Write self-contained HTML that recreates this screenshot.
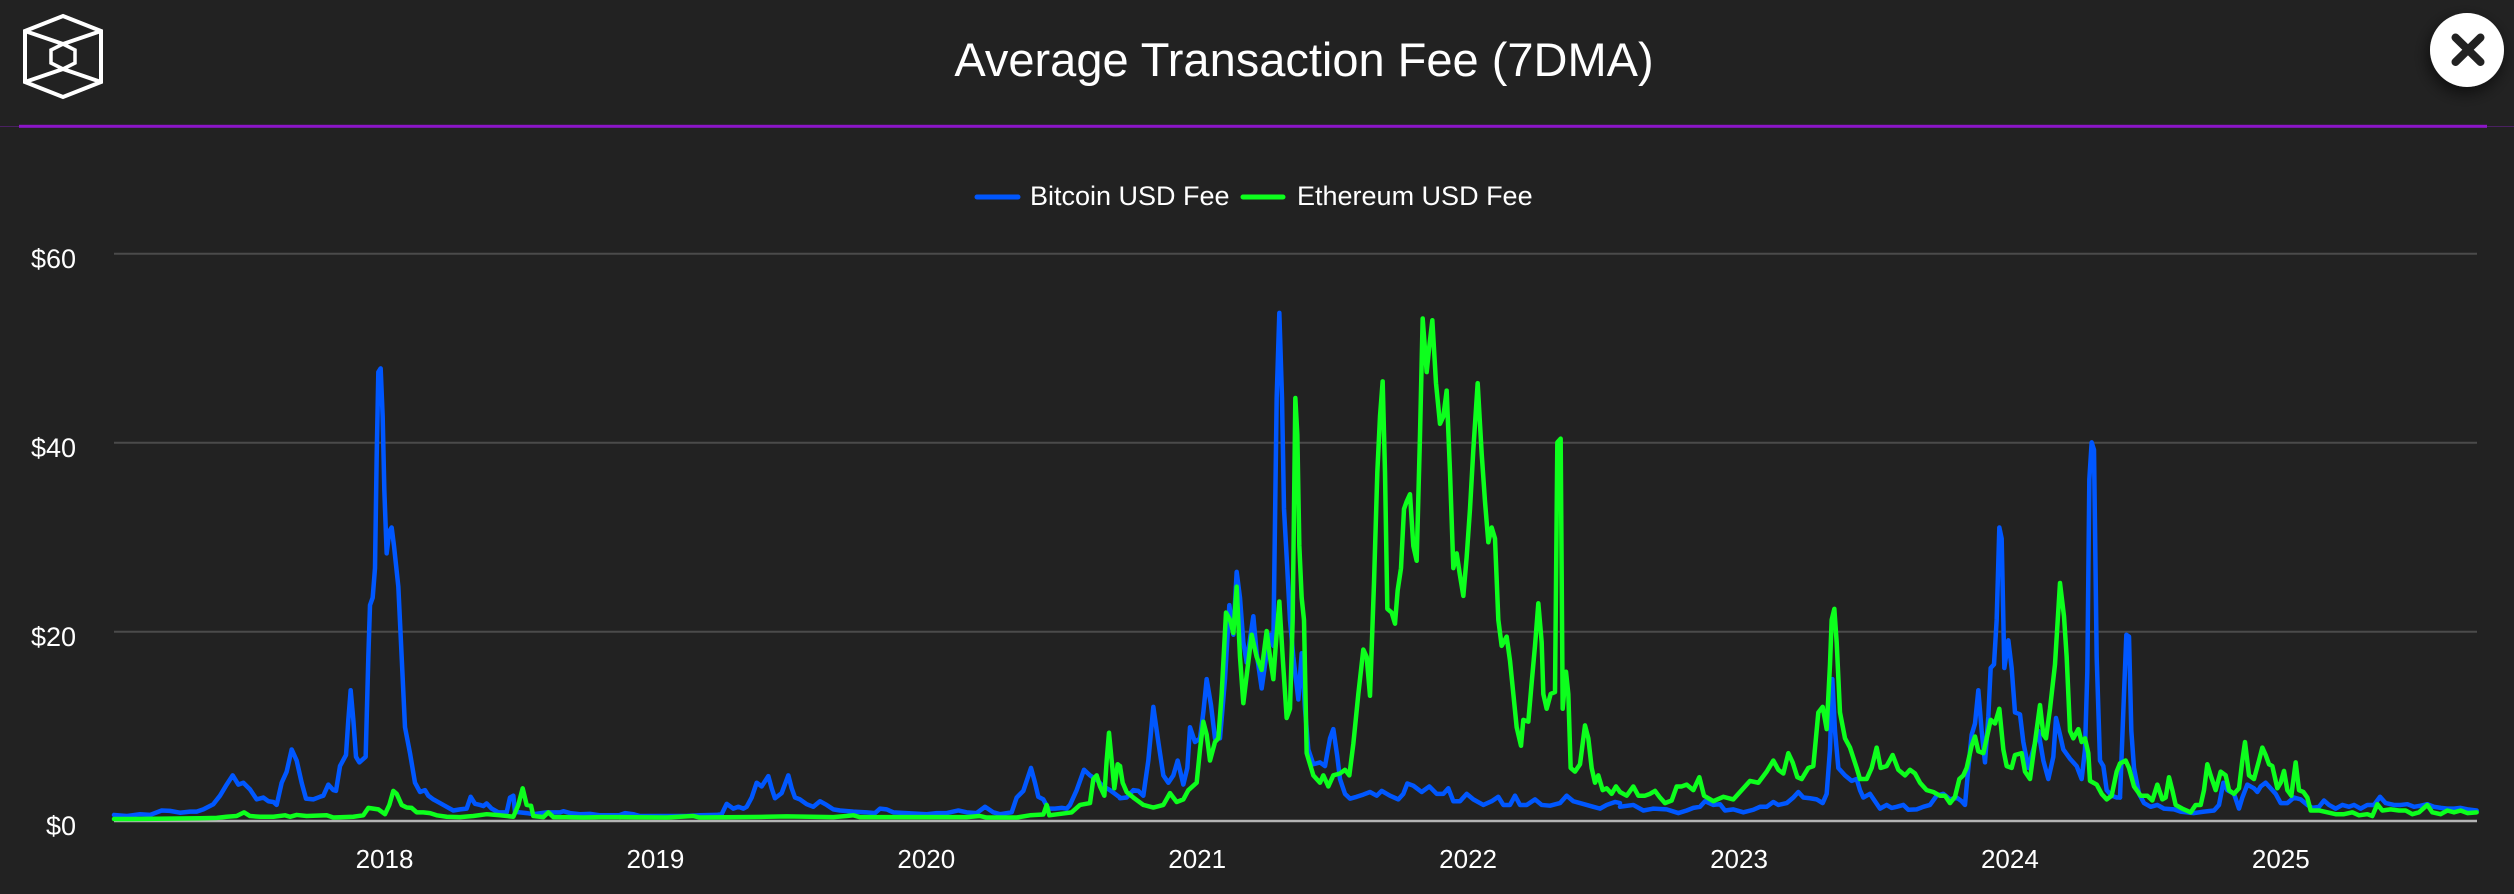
<!DOCTYPE html>
<html>
<head>
<meta charset="utf-8">
<style>
html,body{margin:0;padding:0;background:#222222;}
body{width:2514px;height:894px;overflow:hidden;}
svg{display:block;}
text{font-family:"Liberation Sans",Arial,sans-serif;fill:#ffffff;}
</style>
</head>
<body>
<svg width="2514" height="894" viewBox="0 0 2514 894" xmlns="http://www.w3.org/2000/svg">
<defs>
<filter id="sh" x="-50%" y="-50%" width="200%" height="200%">
<feGaussianBlur in="SourceAlpha" stdDeviation="8"/>
<feOffset dx="-2" dy="6" result="o"/>
<feComponentTransfer><feFuncA type="linear" slope="0.6"/></feComponentTransfer>
<feMerge><feMergeNode/><feMergeNode in="SourceGraphic"/></feMerge>
</filter>
</defs>
<rect x="0" y="0" width="2514" height="894" fill="#222222"/>

<!-- logo -->
<g fill="none" stroke="#ffffff" stroke-width="4" stroke-linejoin="miter">
<polygon points="63,16 101,31 101,82 63,97 25,82 25,31"/>
<polygon points="63,44 75,50 75,63 63,69 51,63 51,50" stroke-width="3.5"/>
<line x1="25" y1="31" x2="63" y2="44"/>
<line x1="101" y1="31" x2="63" y2="44"/>
<line x1="25" y1="82" x2="63" y2="69"/>
<line x1="101" y1="82" x2="63" y2="69"/>
</g>

<!-- title -->
<text x="1304" y="76" font-size="47" text-anchor="middle">Average Transaction Fee (7DMA)</text>

<!-- close button -->
<g filter="url(#sh)">
<circle cx="2467" cy="50" r="37" fill="#ffffff"/>
</g>
<g stroke="#222222" stroke-width="8" stroke-linecap="round">
<line x1="2455.5" y1="37.5" x2="2480.5" y2="62"/>
<line x1="2480.5" y1="37.5" x2="2455.5" y2="62"/>
</g>

<!-- purple divider -->
<rect x="0" y="126" width="2514" height="1" fill="#4a2162"/>
<rect x="19" y="124.8" width="2468" height="3" fill="#8c16c8"/>

<!-- legend -->
<line x1="977" y1="197" x2="1018" y2="197" stroke="#0057ff" stroke-width="5" stroke-linecap="round"/>
<text x="1030" y="205" font-size="27">Bitcoin USD Fee</text>
<line x1="1243" y1="197" x2="1283" y2="197" stroke="#0dff1d" stroke-width="5" stroke-linecap="round"/>
<text x="1297" y="205" font-size="27">Ethereum USD Fee</text>

<!-- grid -->
<g stroke="#4b4b4b" stroke-width="2">
<line x1="114" y1="253.7" x2="2477" y2="253.7"/>
<line x1="114" y1="442.8" x2="2477" y2="442.8"/>
<line x1="114" y1="631.8" x2="2477" y2="631.8"/>
</g>
<line x1="114" y1="821" x2="2477" y2="821" stroke="#b4b4b4" stroke-width="2.5"/>

<!-- y labels -->
<g font-size="27" text-anchor="end">
<text x="76" y="268">$60</text>
<text x="76" y="457">$40</text>
<text x="76" y="646">$20</text>
<text x="76" y="835">$0</text>
</g>

<!-- x labels -->
<g font-size="26" text-anchor="middle">
<text x="384.5" y="868">2018</text>
<text x="655.4" y="868">2019</text>
<text x="926.3" y="868">2020</text>
<text x="1197.2" y="868">2021</text>
<text x="1468.1" y="868">2022</text>
<text x="1739" y="868">2023</text>
<text x="2009.9" y="868">2024</text>
<text x="2280.8" y="868">2025</text>
</g>

<!-- BLUE series -->
<g fill="none" stroke="#0057ff" stroke-width="4.5" stroke-linejoin="round" stroke-linecap="round">
<g transform="translate(100,250) scale(0.333333,0.36996)">
<polyline vector-effect="non-scaling-stroke" points="42,1527 80,1530 120,1525 150,1527 185,1515 210,1516 240,1521 270,1518 290,1518 310,1512 340,1498 360,1475 380,1445 398,1420 415,1445 430,1440 450,1458 470,1485 490,1480 505,1490 520,1492 530,1500 545,1440 560,1410 575,1350 590,1380 605,1440 618,1483 640,1485 660,1478 670,1475 685,1445 700,1460 708,1462 720,1395 738,1365 745,1270 752,1190 760,1270 768,1370 778,1385 797,1370 805,1100 810,960 818,940 825,860 830,560 835,330 842,320 848,450 853,650 860,820 868,760 875,750 882,800 895,910 905,1100 915,1290 930,1360 945,1440 960,1465 975,1460 985,1475 1000,1485 1020,1495 1040,1505 1060,1515 1080,1512 1100,1510 1112,1478 1125,1497 1140,1500 1150,1503 1160,1496 1175,1510 1195,1520 1220,1520 1230,1480 1240,1475 1245,1518 1260,1520 1280,1522 1300,1525 1340,1520 1380,1520 1390,1517 1410,1522 1440,1525 1470,1524 1500,1528 1560,1528"/>
</g>
<g transform="translate(600,250) scale(0.333333,0.36996)">
<polyline vector-effect="non-scaling-stroke" points="60,1527 75,1522 100,1525 120,1530 200,1530 260,1530 300,1528 350,1527 365,1525 380,1497 400,1510 415,1505 430,1510 440,1505 455,1480 470,1440 485,1450 505,1422 515,1455 525,1482 545,1468 565,1420 575,1455 585,1480 600,1485 620,1498 640,1505 660,1490 680,1500 700,1512 720,1515 760,1518 800,1520 825,1522 840,1510 860,1512 880,1520 920,1522 980,1525 1010,1522 1040,1522 1075,1515 1100,1520 1130,1522 1155,1505 1180,1520 1200,1525 1235,1520 1250,1480 1270,1462 1293,1400 1305,1440 1315,1478 1330,1485 1345,1510 1365,1510 1385,1508 1400,1510 1410,1500 1430,1460 1452,1405 1470,1420 1490,1432 1510,1450 1530,1460 1545,1470 1560,1480"/>
</g>
<g transform="translate(1100,250) scale(0.333333,0.36996)">
<polyline vector-effect="non-scaling-stroke" points="60,1482 80,1480 100,1460 115,1462 130,1475 145,1380 160,1235 175,1330 190,1420 205,1440 220,1420 233,1380 250,1445 262,1400 270,1290 285,1330 300,1320 310,1250 320,1160 333,1230 345,1320 360,1320 375,1160 388,960 400,1040 410,870 420,940 430,1060 440,1115 460,990 470,1090 485,1185 500,1090 510,1040 520,1070 530,400 538,170 546,400 552,700 560,830 570,1000 580,1100 595,1215 605,1090 615,1240 625,1350 640,1390 660,1385 675,1395 690,1320 700,1295 712,1370 720,1430 735,1470 750,1483 770,1478 790,1472 810,1465 830,1475 845,1462 870,1475 895,1485 910,1470 922,1442 940,1448 965,1465 988,1450 1010,1470 1030,1470 1045,1455 1060,1490 1080,1490 1100,1470 1120,1485 1150,1500 1175,1490 1195,1478 1210,1500 1230,1500 1245,1475 1260,1500 1280,1500 1305,1485 1325,1500 1350,1502 1380,1495 1400,1475 1420,1490 1440,1495 1460,1500 1480,1505 1500,1510 1520,1500 1545,1492 1560,1495"/>
</g>
<g transform="translate(1600,250) scale(0.333333,0.36996)">
<polyline vector-effect="non-scaling-stroke" points="60,1505 100,1500 130,1515 160,1510 200,1512 235,1522 260,1515 280,1508 300,1505 315,1490 340,1500 360,1498 375,1515 400,1512 430,1520 460,1513 480,1505 500,1505 520,1492 535,1500 560,1495 580,1480 595,1465 610,1480 630,1482 650,1485 668,1495 680,1470 690,1350 697,1160 705,1300 715,1400 735,1420 755,1435 770,1430 780,1460 790,1480 810,1470 825,1490 840,1510 860,1500 875,1508 890,1505 910,1500 925,1513 950,1512 970,1505 990,1500 1010,1475 1030,1470 1050,1485 1070,1480 1085,1490 1095,1500 1105,1400 1115,1310 1125,1280 1135,1190 1145,1300 1155,1385 1165,1260 1172,1130 1182,1120 1190,1000 1198,750 1205,780 1213,1130 1225,1055 1235,1130 1245,1250 1260,1255 1270,1330 1285,1400 1300,1350 1315,1300 1330,1380 1345,1430 1360,1370 1368,1265 1380,1310 1390,1350 1410,1375 1430,1395 1445,1430 1455,1350 1462,1140 1468,620 1475,520 1482,540 1490,1100 1500,1380 1510,1395 1520,1460 1535,1475 1550,1480 1560,1480"/>
</g>
<g transform="translate(1994,250) scale(0.333333,0.36996)">
<polyline vector-effect="non-scaling-stroke" points="378,1480 390,1200 397,1040 405,1045 412,1300 420,1400 435,1470 450,1495 470,1505 490,1500 510,1510 540,1512 560,1518 580,1520 600,1522 630,1518 660,1515 675,1500 688,1440 700,1460 720,1470 735,1510 745,1480 760,1445 780,1455 790,1465 800,1450 815,1440 830,1455 845,1470 860,1495 880,1495 900,1480 920,1485 940,1500 955,1508 975,1505 990,1488 1005,1500 1025,1510 1045,1500 1065,1505 1080,1500 1100,1510 1120,1500 1140,1500 1158,1478 1175,1495 1200,1500 1220,1500 1240,1498 1260,1505 1280,1502 1300,1498 1320,1505 1340,1508 1360,1510 1380,1510 1400,1508 1420,1512 1448,1515"/>
</g>
</g>

<!-- GREEN series -->
<g fill="none" stroke="#0dff1d" stroke-width="4.5" stroke-linejoin="round" stroke-linecap="round">
<g transform="translate(100,250) scale(0.333333,0.36996)">
<polyline vector-effect="non-scaling-stroke" points="42,1538 100,1538 200,1537 300,1536 350,1535 380,1532 410,1530 432,1520 450,1530 480,1532 520,1532 555,1528 570,1532 590,1527 620,1530 680,1528 700,1534 760,1532 790,1528 805,1508 820,1510 835,1512 855,1525 868,1500 880,1462 890,1470 905,1500 920,1507 935,1508 950,1520 970,1520 990,1522 1010,1528 1040,1532 1080,1533 1120,1530 1160,1525 1200,1528 1240,1532 1255,1500 1268,1455 1280,1500 1293,1502 1300,1530 1330,1533 1345,1520 1360,1533 1400,1533 1450,1534 1500,1533 1560,1533"/>
</g>
<g transform="translate(600,250) scale(0.333333,0.36996)">
<polyline vector-effect="non-scaling-stroke" points="60,1533 200,1534 280,1530 300,1534 500,1532 560,1531 700,1533 740,1530 760,1528 780,1533 900,1533 1100,1533 1140,1530 1160,1534 1250,1534 1290,1528 1330,1526 1340,1500 1348,1528 1400,1522 1415,1520 1440,1500 1470,1495 1480,1430 1490,1420 1500,1450 1513,1475 1520,1380 1527,1305 1535,1380 1543,1455 1553,1390 1560,1395"/>
</g>
<g transform="translate(1100,250) scale(0.333333,0.36996)">
<polyline vector-effect="non-scaling-stroke" points="60,1395 68,1440 80,1465 100,1480 130,1500 160,1507 190,1500 210,1468 230,1492 250,1485 265,1460 290,1440 300,1350 310,1275 320,1310 330,1380 345,1330 355,1320 365,1200 378,980 390,1000 400,1035 410,910 420,1100 430,1225 440,1150 455,1040 470,1100 485,1135 500,1030 510,1100 520,1160 528,1060 538,950 548,1100 560,1265 570,1240 578,1000 586,400 592,500 598,800 605,940 612,1000 620,1360 640,1420 660,1440 670,1420 685,1450 700,1420 720,1415 735,1405 748,1420 760,1335 775,1200 790,1080 800,1100 810,1205 822,900 832,600 840,450 848,355 855,600 862,970 875,980 885,1010 893,920 903,860 912,700 920,680 930,660 940,800 950,840 960,500 968,185 980,330 988,260 997,190 1008,360 1020,470 1030,450 1040,380 1050,600 1060,860 1070,820 1080,880 1090,935 1100,830 1110,700 1120,540 1133,360 1145,550 1155,680 1165,790 1175,750 1185,780 1195,1000 1205,1070 1220,1045 1230,1110 1240,1200 1250,1290 1263,1340 1270,1270 1285,1275 1295,1170 1305,1070 1315,955 1325,1060 1330,1200 1340,1240 1352,1200 1365,1195 1372,520 1382,510 1388,1240 1398,1140 1405,1200 1412,1400 1425,1410 1440,1390 1455,1285 1465,1320 1475,1400 1485,1440 1495,1420 1508,1460 1520,1455 1535,1470 1548,1450 1560,1465"/>
</g>
<g transform="translate(1600,250) scale(0.333333,0.36996)">
<polyline vector-effect="non-scaling-stroke" points="60,1465 80,1475 100,1450 115,1475 135,1475 150,1470 165,1462 180,1480 195,1495 215,1488 230,1450 245,1450 260,1445 280,1460 298,1425 312,1475 340,1490 370,1478 400,1485 420,1465 450,1435 475,1440 500,1410 520,1380 535,1405 550,1415 565,1360 578,1385 592,1425 605,1430 625,1400 640,1395 655,1250 668,1235 680,1295 690,1120 695,1000 703,970 710,1060 720,1250 735,1320 750,1345 770,1400 780,1430 800,1430 815,1400 830,1345 842,1400 860,1395 878,1365 895,1405 915,1420 930,1405 945,1415 960,1440 980,1460 1000,1465 1020,1475 1035,1475 1050,1495 1065,1478 1078,1430 1090,1420 1100,1400 1115,1340 1125,1315 1135,1355 1150,1360 1160,1320 1172,1270 1185,1280 1198,1240 1210,1350 1220,1395 1235,1400 1245,1365 1265,1360 1275,1410 1290,1430 1305,1330 1320,1230 1330,1310 1338,1320 1350,1240 1365,1120 1380,900 1392,990 1400,1100 1410,1300 1420,1320 1435,1295 1445,1330 1455,1320 1465,1360 1470,1435 1490,1445 1505,1470 1520,1485 1535,1475 1550,1410 1560,1388"/>
</g>
<g transform="translate(1994,250) scale(0.333333,0.36996)">
<polyline vector-effect="non-scaling-stroke" points="378,1388 395,1380 405,1400 420,1450 440,1475 460,1475 475,1488 490,1445 505,1485 515,1480 525,1425 535,1460 545,1500 565,1510 590,1520 605,1500 620,1500 630,1460 640,1390 650,1420 665,1460 680,1410 695,1420 705,1460 720,1470 735,1455 745,1380 753,1330 765,1420 780,1430 795,1380 805,1345 815,1365 825,1390 835,1395 850,1455 860,1440 870,1408 880,1460 892,1475 905,1385 915,1460 928,1465 940,1480 950,1515 975,1515 1000,1520 1025,1525 1050,1525 1075,1520 1095,1528 1120,1525 1135,1530 1150,1498 1165,1515 1190,1512 1215,1515 1235,1515 1255,1525 1275,1520 1300,1500 1315,1520 1340,1525 1360,1515 1380,1520 1400,1515 1420,1522 1448,1520"/>
</g>
</g>
</svg>
</body>
</html>
